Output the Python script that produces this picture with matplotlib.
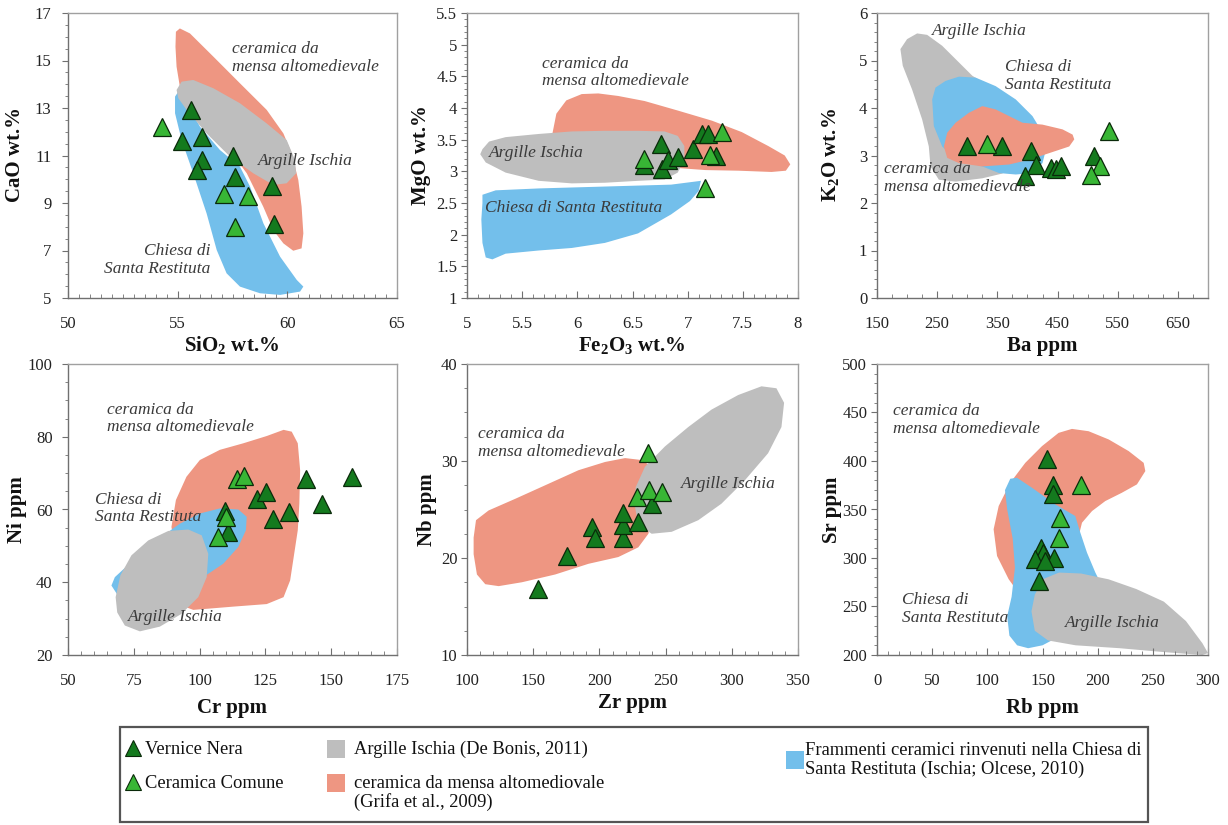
import matplotlib
matplotlib.use("Agg")
import matplotlib.pyplot as plt
from matplotlib.patches import Polygon, Rectangle
from matplotlib.ticker import FixedLocator, FormatStrFormatter

plt.rcParams['font.family'] = ['Liberation Serif', 'DejaVu Serif']
plt.rcParams['mathtext.fontset'] = 'custom'
plt.rcParams['mathtext.rm'] = 'Liberation Serif'
plt.rcParams['mathtext.bf'] = 'Liberation Serif:bold'

DARK = '#147a1e'
LIGHT = '#38b635'
SALMON = '#ee9682'
GREY = '#bebebe'
BLUE = '#73bfeb'
TXT = '#3a3a3a'

# ---------------- data: sample points (Vernice Nera = dark, Ceramica Comune = light)
sio2_dark = [55.6, 55.2, 56.1, 56.1, 55.9, 57.5, 57.6, 59.3, 59.4]
cao_dark = [12.9, 11.6, 11.8, 10.8, 10.4, 11.0, 10.1, 9.7, 8.1]
sio2_light = [54.3, 57.1, 58.2, 57.6]
cao_light = [12.2, 9.4, 9.3, 8.0]

fe2o3_dark = [6.60, 6.76, 6.77, 6.82, 6.91, 7.05, 7.13, 7.18, 7.26]
mgo_dark = [3.10, 3.43, 3.03, 3.18, 3.22, 3.35, 3.59, 3.59, 3.25]
fe2o3_light = [6.60, 7.31, 7.20, 7.16]
mgo_light = [3.20, 3.62, 3.26, 2.73]

ba_dark = [299, 358, 406, 414, 396, 439, 448, 456, 511]
k2o_dark = [3.20, 3.20, 3.09, 2.81, 2.57, 2.74, 2.72, 2.77, 3.00]
ba_light = [333, 520, 506, 536]
k2o_light = [3.25, 2.77, 2.60, 3.51]

cr_dark = [140.5, 157.9, 121.7, 125.1, 146.6, 133.8, 127.7, 109.6, 110.9]
ni_dark = [68.3, 69.0, 63.0, 64.9, 61.6, 59.3, 57.5, 59.6, 53.8]
cr_light = [114.1, 117.0, 110.0, 107.1]
ni_light = [68.5, 69.2, 58.0, 52.4]

zr_dark = [153.3, 175.9, 194.2, 196.3, 217.6, 218.1, 218.1, 229.4, 239.5]
nb_dark = [16.8, 20.2, 23.2, 22.1, 22.1, 23.4, 24.6, 23.7, 25.6]
zr_light = [236.5, 228.7, 237.7, 247.0]
nb_light = [30.8, 26.3, 27.0, 26.8]

rb_dark = [154.1, 159.2, 159.5, 148.6, 150.0, 160.7, 143.5, 152.0, 146.5]
sr_dark = [401.6, 375.2, 365.6, 310.7, 305.0, 300.4, 298.7, 297.0, 276.4]
rb_light = [184.9, 166.2, 164.6]
sr_light = [374.8, 341.6, 321.0]

# ---------------- tick values
sio2_ticks = [50, 55, 60, 65]
cao_ticks = [5, 7, 9, 11, 13, 15, 17]
fe2o3_ticks = [5, 5.5, 6, 6.5, 7, 7.5, 8]
mgo_ticks = [1, 1.5, 2, 2.5, 3, 3.5, 4, 4.5, 5, 5.5]
ba_ticks = [150, 250, 350, 450, 550, 650]
k2o_ticks = [0, 1, 2, 3, 4, 5, 6]
cr_ticks = [50, 75, 100, 125, 150, 175]
ni_ticks = [20, 40, 60, 80, 100]
zr_ticks = [100, 150, 200, 250, 300, 350]
nb_ticks = [10, 20, 30, 40]
rb_ticks = [0, 50, 100, 150, 200, 250, 300]
sr_ticks = [200, 250, 300, 350, 400, 450, 500]

# ---------------- data: reference fields (outlines in data units)
cao_salmon = [(54.92, 16.21), (55.1, 16.35), (55.56, 16.14), (56.63, 15.16), (57.84, 14.04),
              (59.06, 12.92), (59.82, 11.93), (60.2, 11.09), (60.5, 9.97), (60.65, 8.85),
              (60.73, 7.72), (60.65, 7.09), (60.27, 6.99), (59.82, 7.3), (59.36, 7.86),
              (58.9, 8.85), (58.15, 10.25), (56.93, 11.79), (55.71, 13.06), (55.1, 13.9),
              (54.95, 14.74), (54.9, 15.58)]
cao_blue = [(54.88, 13.48), (55.03, 13.69), (55.33, 13.34), (56.02, 12.21), (56.93, 11.23),
            (57.84, 10.53), (58.3, 9.69), (58.91, 8.14), (59.67, 6.74), (60.43, 5.76),
            (60.73, 5.48), (60.58, 5.27), (59.67, 5.13), (58.75, 5.2), (57.84, 5.48),
            (57.23, 6.04), (56.78, 7.02), (56.32, 8.56), (55.71, 10.25), (55.18, 11.65),
            (54.88, 12.78)]
cao_grey = [(54.95, 13.76), (55.18, 14.11), (55.71, 14.18), (56.63, 13.83), (57.84, 13.2),
            (59.06, 12.35), (59.97, 11.65), (60.35, 10.81), (60.4, 10.25), (59.97, 9.83),
            (59.36, 9.76), (58.45, 10.25), (57.39, 10.95), (56.32, 11.93), (55.41, 12.92),
            (55.03, 13.41)]

mgo_salmon = [(5.77, 3.56), (5.81, 3.91), (5.9, 4.12), (6.04, 4.22), (6.19, 4.23), (6.37, 4.19),
              (6.61, 4.11), (6.91, 3.96), (7.22, 3.8), (7.49, 3.62), (7.73, 3.4), (7.88, 3.25),
              (7.93, 3.11), (7.89, 3.01), (7.76, 2.99), (7.46, 3.01), (7.16, 3.02), (6.85, 3.06),
              (6.55, 3.09), (5.95, 3.25), (5.77, 3.4)]
mgo_grey = [(5.14, 3.35), (5.2, 3.47), (5.35, 3.54), (5.65, 3.59), (5.95, 3.63), (6.25, 3.64),
            (6.55, 3.64), (6.79, 3.63), (6.91, 3.56), (6.97, 3.4), (6.97, 3.19), (6.91, 2.98),
            (6.79, 2.87), (6.55, 2.85), (6.25, 2.82), (5.95, 2.81), (5.65, 2.85), (5.35, 2.98),
            (5.17, 3.14), (5.12, 3.27)]
mgo_blue = [(5.14, 2.63), (5.26, 2.7), (5.65, 2.73), (6.25, 2.76), (6.85, 2.79), (7.12, 2.85),
            (7.1, 2.69), (7.02, 2.53), (6.85, 2.32), (6.55, 2.02), (6.25, 1.87), (5.95, 1.79),
            (5.65, 1.75), (5.35, 1.7), (5.23, 1.61), (5.17, 1.64), (5.14, 1.87), (5.13, 2.24),
            (5.14, 2.5)]

k2o_grey = [(188.9, 5.24), (200, 5.45), (216.7, 5.57), (233.3, 5.54), (258.3, 5.31), (286.1, 4.96),
            (308.3, 4.68), (336.1, 4.46), (358.3, 4.18), (380.6, 3.83), (391.7, 3.34), (380.6, 2.91),
            (358.3, 2.62), (325, 2.52), (280.6, 2.45), (252.8, 2.49), (238.9, 2.77), (236.1, 3.19),
            (225, 3.76), (208.3, 4.39), (192.8, 4.89)]
k2o_blue = [(241.7, 4.18), (247.2, 4.43), (263.9, 4.57), (286.1, 4.66), (313.9, 4.64), (347.2, 4.46),
            (380.6, 4.18), (408.3, 3.83), (425, 3.48), (430.6, 3.12), (425, 2.84), (408.3, 2.63),
            (380.6, 2.6), (352.8, 2.63), (325, 2.77), (280.6, 2.91), (258.3, 3.19), (244.4, 3.62)]
k2o_salmon = [(261.1, 3.19), (266.7, 3.48), (280.6, 3.69), (302.8, 3.9), (325, 4.04), (347.2, 3.97),
              (369.4, 3.83), (391.7, 3.69), (425, 3.65), (458.3, 3.55), (475, 3.44), (477.8, 3.34),
              (469.4, 3.19), (436.1, 3.05), (402.8, 2.91), (369.4, 2.81), (325, 2.77), (286.1, 2.84),
              (266.7, 2.95)]

ni_salmon = [(89.3, 55.2), (91.0, 62.6), (95.0, 69.0), (100.1, 73.6), (107.7, 76.4), (116.6, 78.2),
             (125.5, 80.2), (131.9, 81.9), (135.0, 81.4), (137.3, 78.2), (138.2, 70.8), (137.9, 61.6),
             (137.3, 54.3), (134.4, 40.5), (131.9, 35.9), (125.5, 34.0), (112.8, 33.3), (97.6, 32.4),
             (95.0, 33.1), (93.1, 38.6), (91.2, 47.8)]
ni_blue = [(66.5, 39.1), (67.8, 41.4), (74.7, 46.0), (83.6, 51.5), (92.5, 56.1), (100.1, 58.9),
           (107.7, 60.3), (114.7, 60.0), (117.9, 58.0), (117.6, 54.3), (114.7, 49.7), (109.0, 45.1),
           (101.4, 41.4), (92.5, 38.6), (83.6, 36.8), (74.7, 35.9), (69.0, 36.3)]
ni_grey = [(68.1, 35.9), (69.9, 41.9), (74.1, 47.4), (80.5, 51.5), (88.1, 54.1), (95.7, 54.5),
           (100.8, 52.9), (103.3, 47.8), (102.7, 41.4), (99.5, 35.9), (93.1, 31.3), (84.9, 27.8),
           (77.3, 26.5), (71.6, 28.1), (68.7, 31.7)]

nb_salmon = [(105.0, 22.1), (106.8, 23.9), (116.3, 24.9), (136.4, 26.1), (159.1, 27.5), (184.2, 29.05),
             (204.3, 29.9), (219.4, 30.3), (231.9, 30.1), (239.5, 29.4), (241.5, 27.3), (240.7, 24.6),
             (237.0, 22.5), (229.4, 21.1), (214.3, 20.1), (191.7, 19.4), (166.6, 18.3), (141.5, 17.5),
             (123.9, 17.1), (113.8, 17.3), (107.5, 18.3), (105.0, 20.4)]
nb_grey = [(226.9, 25.25), (227.4, 27.3), (234.4, 29.4), (249.5, 31.5), (267.1, 33.5), (284.7, 35.3),
           (304.8, 36.8), (322.4, 37.7), (333.7, 37.5), (339.5, 36.0), (337.5, 33.5), (327.4, 30.8),
           (309.8, 28.0), (292.2, 25.6), (274.7, 23.9), (254.6, 22.7), (239.5, 22.5), (229.4, 23.4)]

sr_salmon = [(131.4, 259.3), (119.3, 278.2), (108.8, 302.1), (105.7, 329.6), (110.3, 353.6),
             (120.8, 377.6), (134.4, 398.1), (149.5, 415.3), (164.6, 429.0), (176.7, 433.1),
             (191.8, 430.7), (210.0, 422.2), (228.1, 410.2), (241.7, 398.1), (243.2, 389.6),
             (235.6, 375.9), (222.0, 367.3), (206.9, 358.7), (194.9, 348.4), (185.8, 336.4),
             (182.8, 322.7), (179.7, 305.6), (167.7, 278.1), (152.6, 261.0)]
sr_blue = [(120.8, 381.7), (126.9, 382.7), (140.5, 372.4), (161.6, 355.3), (179.7, 343.3),
           (184.3, 326.1), (190.3, 305.6), (197.9, 285.0), (203.9, 271.3), (206.9, 257.5),
           (195, 240), (170, 222), (150, 210), (137, 207), (127, 210), (120, 220), (118, 240),
           (122, 260), (125, 290), (123, 320), (118, 350), (116, 370)]
sr_grey = [(143, 262), (150, 278), (165, 285), (185, 284), (210, 278), (235, 268), (260, 255),
           (280, 235), (295, 212), (300, 202), (295, 200), (260, 203), (220, 207), (180, 210),
           (155, 215), (143, 225), (140, 245)]

# ---------------- figure
fig = plt.figure(figsize=(12.28, 8.25), dpi=100)
W, H = 1228.0, 825.0


def px_axes(x0, y0, x1, y1):
    return fig.add_axes([x0 / W, 1 - y1 / H, (x1 - x0) / W, (y1 - y0) / H])


def minor_between(ticks, n):
    out = []
    for a, b in zip(ticks[:-1], ticks[1:]):
        step = (b - a) / n
        out += [a + step * i for i in range(1, n)]
    return out


def style(ax, xlim, ylim, xt, yt, xn, yn, ypad):
    ax.set_xlim(*xlim)
    ax.set_ylim(*ylim)
    ax.xaxis.set_major_locator(FixedLocator(xt))
    ax.yaxis.set_major_locator(FixedLocator(yt))
    xm = minor_between(xt + [xt[-1] + (xt[-1] - xt[-2])], xn)
    ax.xaxis.set_minor_locator(FixedLocator([v for v in xm if xlim[0] < v < xlim[1]]))
    ax.yaxis.set_minor_locator(FixedLocator(minor_between(yt, yn)))
    ax.xaxis.set_major_formatter(FormatStrFormatter('%g'))
    ax.yaxis.set_major_formatter(FormatStrFormatter('%g'))
    for s in ax.spines.values():
        s.set_color('#a0a0a0')
        s.set_linewidth(1.0)
    ax.spines['left'].set_color('#707070')
    ax.spines['bottom'].set_color('#707070')
    ax.tick_params(axis='x', which='both', direction='in', colors='#707070',
                   labelcolor='#222222', labelsize=12, pad=13)
    ax.tick_params(axis='x', which='major', length=5)
    ax.tick_params(axis='x', which='minor', length=3)
    ax.tick_params(axis='y', which='both', direction='out', colors='#707070',
                   labelcolor='#222222', labelsize=12, pad=ypad)
    ax.tick_params(axis='y', which='major', length=4)
    ax.tick_params(axis='y', which='minor', length=2.5)


def fields(ax, order):
    for pts, col in order:
        ax.add_patch(Polygon(pts, closed=True, facecolor=col, edgecolor='none', zorder=1))


def points(ax, xd, yd, xl, yl):
    ax.plot(xd, yd, '^', ms=13, color=DARK, mec='#0a2a0a', mew=0.9, zorder=3, ls='none')
    ax.plot(xl, yl, '^', ms=13, color=LIGHT, mec='#0a2a0a', mew=0.9, zorder=4, ls='none')


def label(ax, x, y, s, ha='left'):
    ax.text(x, y, s, ha=ha, va='center', style='italic', fontsize=12.5, color=TXT,
            linespacing=1.15, zorder=5, multialignment=ha)


cols = [(68, 397), (467, 798), (877, 1208)]
rows = [(13, 298), (364, 655)]

# panel 1: CaO vs SiO2
ax1 = px_axes(cols[0][0], rows[0][0], cols[0][1], rows[0][1])
style(ax1, (50, 65), (5, 17), sio2_ticks, cao_ticks, 10, 4, 8)
fields(ax1, [(cao_salmon, SALMON), (cao_blue, BLUE), (cao_grey, GREY)])
points(ax1, sio2_dark, cao_dark, sio2_light, cao_light)
label(ax1, 57.46, 15.1, 'ceramica da\nmensa altomedievale')
label(ax1, 58.68, 10.78, 'Argille Ischia')
label(ax1, 56.5, 6.6, 'Chiesa di\nSanta Restituta', ha='right')

# panel 2: MgO vs Fe2O3
ax2 = px_axes(cols[1][0], rows[0][0], cols[1][1], rows[0][1])
style(ax2, (5, 8), (1, 5.5), fe2o3_ticks, mgo_ticks, 5, 5, 3)
fields(ax2, [(mgo_salmon, SALMON), (mgo_grey, GREY), (mgo_blue, BLUE)])
points(ax2, fe2o3_dark, mgo_dark, fe2o3_light, mgo_light)
label(ax2, 5.68, 4.56, 'ceramica da\nmensa altomedievale')
label(ax2, 5.2, 3.29, 'Argille Ischia')
label(ax2, 5.16, 2.42, 'Chiesa di Santa Restituta')

# panel 3: K2O vs Ba
ax3 = px_axes(cols[2][0], rows[0][0], cols[2][1], rows[0][1])
style(ax3, (150, 700), (0, 6), ba_ticks, k2o_ticks, 4, 5, 3)
fields(ax3, [(k2o_grey, GREY), (k2o_blue, BLUE), (k2o_salmon, SALMON)])
points(ax3, ba_dark, k2o_dark, ba_light, k2o_light)
label(ax3, 241.7, 5.63, 'Argille Ischia')
label(ax3, 362.8, 4.68, 'Chiesa di\nSanta Restituta')
label(ax3, 161, 2.53, 'ceramica da\nmensa altomedievale')

# panel 4: Ni vs Cr
ax4 = px_axes(cols[0][0], rows[1][0], cols[0][1], rows[1][1])
style(ax4, (50, 175), (20, 100), cr_ticks, ni_ticks, 5, 4, 7)
fields(ax4, [(ni_salmon, SALMON), (ni_blue, BLUE), (ni_grey, GREY)])
points(ax4, cr_dark, ni_dark, cr_light, ni_light)
label(ax4, 64.8, 85.0, 'ceramica da\nmensa altomedievale')
label(ax4, 60.2, 60.3, 'Chiesa di\nSanta Restituta')
label(ax4, 72.6, 30.4, 'Argille Ischia')

# panel 5: Nb vs Zr
ax5 = px_axes(cols[1][0], rows[1][0], cols[1][1], rows[1][1])
style(ax5, (100, 350), (10, 40), zr_ticks, nb_ticks, 5, 4, 3)
fields(ax5, [(nb_salmon, SALMON), (nb_grey, GREY)])
points(ax5, zr_dark, nb_dark, zr_light, nb_light)
label(ax5, 108.3, 31.85, 'ceramica da\nmensa altomedievale')
label(ax5, 261.6, 27.6, 'Argille Ischia')

# panel 6: Sr vs Rb
ax6 = px_axes(cols[2][0], rows[1][0], cols[2][1], rows[1][1])
style(ax6, (0, 300), (200, 500), rb_ticks, sr_ticks, 5, 5, 3)
fields(ax6, [(sr_salmon, SALMON), (sr_blue, BLUE), (sr_grey, GREY)])
points(ax6, rb_dark, sr_dark, rb_light, sr_light)
label(ax6, 14.2, 442.5, 'ceramica da\nmensa altomedievale')
label(ax6, 22.7, 247.6, 'Chiesa di\nSanta Restituta')
label(ax6, 170, 233.5, 'Argille Ischia')

# axis titles
xlabels = [(232, 346, r'SiO$_\mathbf{2}$ wt.%'), (632, 346, r'Fe$_\mathbf{2}$O$_\mathbf{3}$ wt.%'),
           (1042, 346, 'Ba ppm'), (232, 708, 'Cr ppm'), (632, 703, 'Zr ppm'), (1042, 708, 'Rb ppm')]
for x, y, s in xlabels:
    fig.text(x / W, 1 - y / H, s, ha='center', va='center', fontsize=15, fontweight='bold',
             color='#111111')
ylabels = [(15, 155, 'CaO wt.%'), (421, 155, 'MgO wt.%'), (831, 155, r'K$_\mathbf{2}$O wt.%'),
           (17, 510, 'Ni ppm'), (427, 510, 'Nb ppm'), (832, 510, 'Sr ppm')]
for x, y, s in ylabels:
    fig.text(x / W, 1 - y / H, s, ha='center', va='center', rotation=90, fontsize=15,
             fontweight='bold', color='#111111')

# legend box
lax = fig.add_axes([0, 0, 1, 1], zorder=10)
lax.set_xlim(0, W)
lax.set_ylim(H, 0)
lax.axis('off')
lax.add_patch(Rectangle((120, 727), 1028, 95, fill=False, edgecolor='#555555', lw=1.6))
lax.plot([133], [748], '^', ms=11, color=DARK, mec='#0a2a0a', mew=0.8)
lax.plot([133], [782], '^', ms=11, color=LIGHT, mec='#0a2a0a', mew=0.8)
lax.add_patch(Rectangle((327, 740), 18, 18, facecolor=GREY, edgecolor='none'))
lax.add_patch(Rectangle((327, 774), 18, 18, facecolor=SALMON, edgecolor='none'))
lax.add_patch(Rectangle((786, 751), 18, 18, facecolor=BLUE, edgecolor='none'))
leg_fs = 13.3
lax.text(145, 749, 'Vernice Nera', va='center', ha='left', fontsize=leg_fs, color='#111111')
lax.text(145, 783, 'Ceramica Comune', va='center', ha='left', fontsize=leg_fs, color='#111111')
lax.text(354, 749, 'Argille Ischia (De Bonis, 2011)', va='center', ha='left', fontsize=leg_fs,
         color='#111111')
lax.text(354, 793, 'ceramica da mensa altomediovale\n(Grifa et al., 2009)', va='center',
         ha='left', fontsize=leg_fs, color='#111111', linespacing=1.1)
lax.text(805, 760, 'Frammenti ceramici rinvenuti nella Chiesa di\nSanta Restituta (Ischia; Olcese, 2010)',
         va='center', ha='left', fontsize=leg_fs, color='#111111', linespacing=1.1)

fig.savefig('out.png', dpi=100)
